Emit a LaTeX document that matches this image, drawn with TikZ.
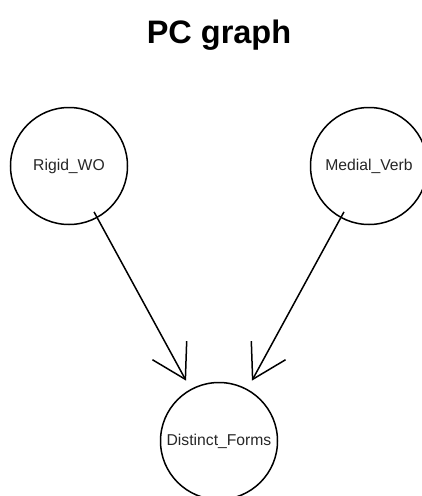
\documentclass[tikz,border=0pt]{standalone}
\usepackage{fontspec}
\setmainfont{Liberation Sans}
\usetikzlibrary{arrows.meta}
\begin{document}
\begin{tikzpicture}[x=1pt,y=-1pt,
  var/.style={circle, draw, line width=1.5pt, minimum size=117pt, inner sep=0pt,
    font=\fontsize{15.7}{18}\selectfont, text=black!85},
  edge/.style={line width=1.5pt, -{Straight Barb[length=33pt,width=39pt]},
    shorten <=-7pt, shorten >=9.5pt}]
\useasboundingbox (0,0) rectangle (422,496);
\node[anchor=base, font=\fontsize{32.5}{36}\selectfont\bfseries] (title) at (219,43.3) {PC graph};
\node[var] (rigid) at (69,166) {Rigid\_WO};
\node[var] (medial) at (369,166) {Medial\_Verb};
\node[var] (distinct) at (219,441) {Distinct\_Forms};
\draw[edge] (rigid) -- (distinct);
\draw[edge] (medial) -- (distinct);
\end{tikzpicture}
\end{document}
